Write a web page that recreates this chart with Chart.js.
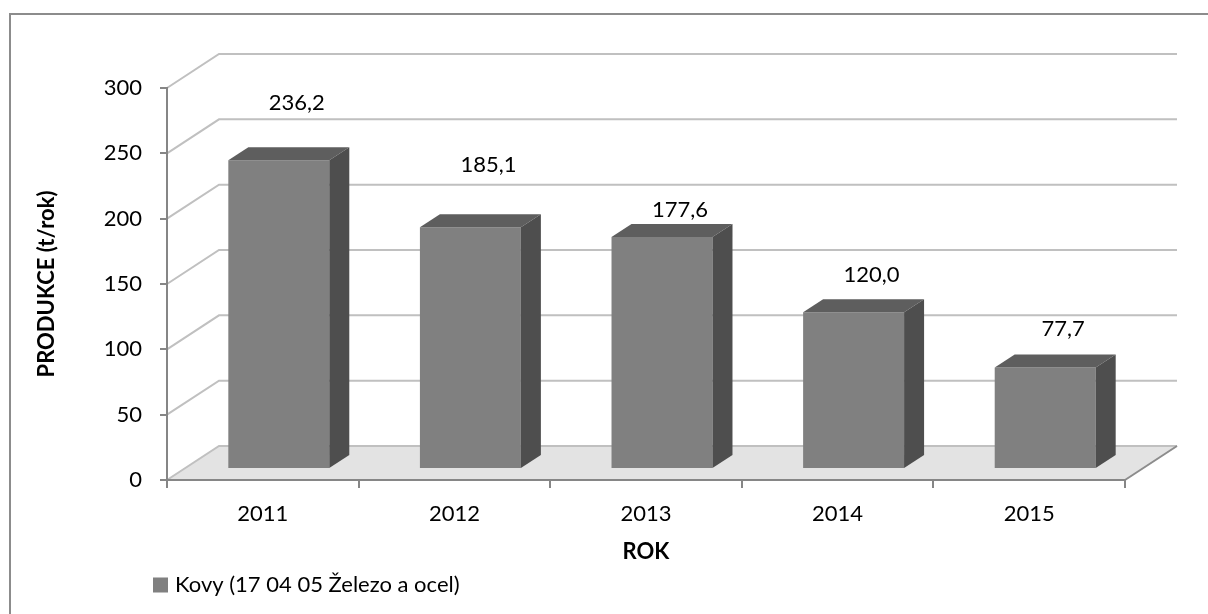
<!DOCTYPE html>
<html>
<head>
<meta charset="utf-8">
<script src="https://cdn.jsdelivr.net/npm/chart.js@4.4.0/dist/chart.umd.min.js"></script>
<style>
    html, body { margin: 0; padding: 0; background: #fff; }
    canvas { display: block; }
</style>
</head>
<body>
<canvas id="chart-kovy" width="1208" height="614"></canvas>
<script>
const years = ['2011', '2012', '2013', '2014', '2015'];
const production = [236.2, 185.1, 177.6, 120.0, 77.7];
const yTicks = [0, 50, 100, 150, 200, 250, 300];
const seriesName = 'Kovy (17 04 05 Železo a ocel)';

// how far each value label sits above its bar (labels were hand placed in the original)
const labelLift = [57, 62, 27, 37, 39];

// 3D look: offsets in px
const shift = { x: 16, y: -11 };   // bar front plane vs axis plane
const depth = { x: 20, y: -13 };   // bar depth
const wall = { x: 52, y: -34 };    // back wall vs axis plane

const barFront = '#808080';
const barTop = '#5e5e5e';
const barSide = '#4e4e4e';
const axisGray = '#868686';
const gridGray = '#c0c0c0';
const fontFamily = 'Lato, sans-serif';

Chart.defaults.font.family = fontFamily;
Chart.defaults.color = '#000';

function formatValue(v) {
    return v.toFixed(1).replace('.', ',');
}

// floor, walls, frame
const scenePlugin = {
    id: 'scene',
    beforeDraw(chart) {
        const ctx = chart.ctx;
        const xs = chart.scales.x, ys = chart.scales.y;
        const l = xs.left, r = xs.right, b = ys.getPixelForValue(0);
        ctx.save();
        ctx.fillStyle = '#fff';
        ctx.fillRect(0, 0, chart.width, chart.height);

        ctx.strokeStyle = '#8c8c8c';
        ctx.lineWidth = 2;
        ctx.strokeRect(10, 14, chart.width, chart.height);

        ctx.beginPath();
        ctx.moveTo(l, b);
        ctx.lineTo(r, b);
        ctx.lineTo(r + wall.x, b + wall.y);
        ctx.lineTo(l + wall.x, b + wall.y);
        ctx.closePath();
        ctx.fillStyle = '#e3e3e3';
        ctx.fill();

        ctx.strokeStyle = gridGray;
        ctx.lineWidth = 2;
        yTicks.forEach(v => {
            const y = ys.getPixelForValue(v);
            ctx.beginPath();
            ctx.moveTo(l, y);
            ctx.lineTo(l + wall.x, y + wall.y);
            ctx.lineTo(r + wall.x, y + wall.y);
            ctx.stroke();
        });

        ctx.strokeStyle = '#8c8c8c';
        ctx.beginPath();
        ctx.moveTo(r, b);
        ctx.lineTo(r + wall.x, b + wall.y);
        ctx.stroke();
        ctx.restore();
    },
    beforeDatasetsDraw(chart) {
        chart.ctx.save();
        chart.ctx.translate(shift.x, shift.y);
    },
    afterDatasetsDraw(chart) {
        const ctx = chart.ctx;
        const meta = chart.getDatasetMeta(0);
        meta.data.forEach(bar => {
            const p = bar.getProps(['x', 'y', 'base', 'width'], true);
            const x1 = p.x - p.width / 2, x2 = p.x + p.width / 2;
            // top face
            ctx.beginPath();
            ctx.moveTo(x1, p.y);
            ctx.lineTo(x2, p.y);
            ctx.lineTo(x2 + depth.x, p.y + depth.y);
            ctx.lineTo(x1 + depth.x, p.y + depth.y);
            ctx.closePath();
            ctx.fillStyle = barTop;
            ctx.fill();
            // side face
            ctx.beginPath();
            ctx.moveTo(x2, p.y);
            ctx.lineTo(x2 + depth.x, p.y + depth.y);
            ctx.lineTo(x2 + depth.x, p.base + depth.y);
            ctx.lineTo(x2, p.base);
            ctx.closePath();
            ctx.fillStyle = barSide;
            ctx.fill();
        });
        ctx.restore();

        // value labels
        ctx.save();
        ctx.font = '22px ' + fontFamily;
        ctx.fillStyle = '#000';
        ctx.textAlign = 'center';
        ctx.textBaseline = 'middle';
        meta.data.forEach((bar, i) => {
            const p = bar.getProps(['x', 'y'], true);
            ctx.fillText(formatValue(production[i]), p.x + shift.x + 18, p.y + shift.y - labelLift[i]);
        });
        ctx.restore();
    },
    afterDraw(chart) {
        // legend, bottom left
        const ctx = chart.ctx;
        const ds = chart.data.datasets[0];
        const x = chart.chartArea.left - 14;
        const y = chart.height - 29;
        ctx.save();
        ctx.fillStyle = ds.backgroundColor;
        ctx.fillRect(x, y - 7.5, 15, 15);
        ctx.font = '22px ' + fontFamily;
        ctx.fillStyle = '#000';
        ctx.textAlign = 'left';
        ctx.textBaseline = 'middle';
        ctx.fillText(ds.label, x + 22, y);
        ctx.restore();
    }
};

function loadGraph() {
    const config = {
        type: 'bar',
        data: {
            labels: years,
            datasets: [{
                label: seriesName,
                data: production,
                backgroundColor: barFront,
                borderWidth: 0,
                categoryPercentage: 1,
                barPercentage: 0.527,
                clip: false
            }]
        },
        options: {
            responsive: false,
            animation: false,
            devicePixelRatio: 1,
            events: [],
            layout: {
                padding: { left: 20, top: 88, right: 83, bottom: 49 }
            },
            scales: {
                x: {
                    grid: {
                        display: true,
                        drawOnChartArea: false,
                        drawTicks: true,
                        tickLength: 8,
                        color: axisGray,
                        lineWidth: 2,
                        offset: true
                    },
                    border: { display: true, color: axisGray, width: 2 },
                    ticks: {
                        font: { size: 22 },
                        padding: 13,
                        color: '#000'
                    },
                    title: {
                        display: true,
                        text: 'ROK',
                        font: { size: 22, weight: 'bold' },
                        padding: { top: 0, bottom: 0 }
                    },
                    afterFit(scale) { scale.height = 85; }
                },
                y: {
                    min: yTicks[0],
                    max: yTicks[yTicks.length - 1],
                    grid: {
                        display: true,
                        drawOnChartArea: false,
                        drawTicks: true,
                        tickLength: 7,
                        color: axisGray,
                        lineWidth: 2
                    },
                    border: { display: true, color: axisGray, width: 2 },
                    ticks: {
                        stepSize: yTicks[1] - yTicks[0],
                        font: { size: 22 },
                        padding: 18,
                        color: '#000'
                    },
                    title: {
                        display: true,
                        text: 'PRODUKCE (t/rok)',
                        font: { size: 22, weight: 'bold' },
                        padding: { top: 14, bottom: 0 }
                    },
                    afterFit(scale) { scale.width = 147; }
                }
            },
            plugins: {
                legend: { display: false },
                tooltip: { enabled: false }
            }
        },
        plugins: [scenePlugin]
    };

    const ctx = document.getElementById('chart-kovy').getContext('2d');
    new Chart(ctx, config);
}

document.addEventListener('DOMContentLoaded', loadGraph);
</script>
</body>
</html>
